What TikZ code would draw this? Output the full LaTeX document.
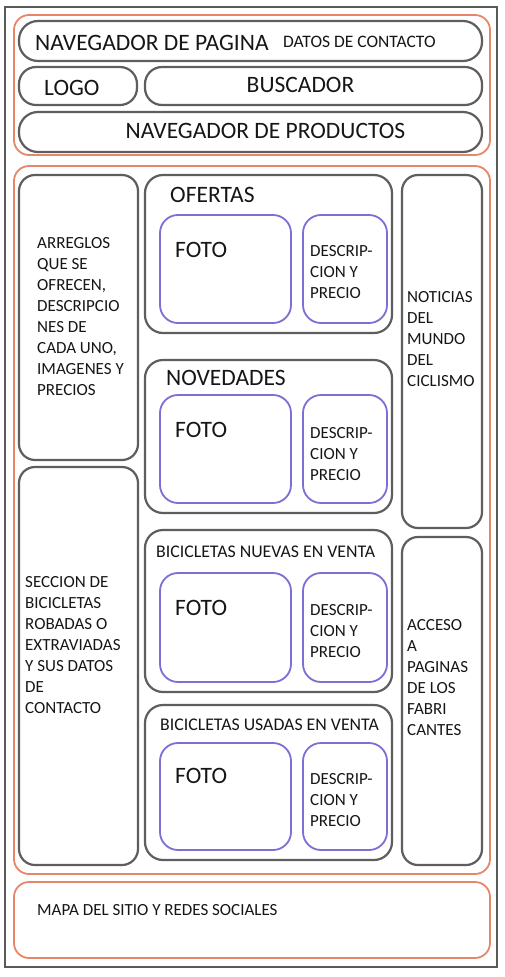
\documentclass[tikz,border=0pt]{standalone}
\usepackage{fontspec}
\setmainfont{Carlito}
\definecolor{frameg}{HTML}{5A5A5A}
\definecolor{boxg}{HTML}{5E5E5E}
\definecolor{orng}{HTML}{E8866A}
\definecolor{blu}{HTML}{7A70D6}
\definecolor{txt}{HTML}{161616}
\newcommand\bx[7]{\node[#1, rounded corners=#7, minimum width={(#5-#3)*1pt}, minimum height={(#6-#4)*1pt}] (#2) at ({(#3+#5)/2},{(#4+#6)/2}) {};}
\tikzset{
  x=1pt, y=-1pt,
  frm/.style={draw=frameg, line width=1.6pt, inner sep=0pt, outer sep=0pt, fill=white},
  obox/.style={draw=orng, line width=1.8pt, inner sep=0pt, outer sep=0pt},
  gbox/.style={draw=boxg, line width=2.2pt, inner sep=0pt, outer sep=0pt},
  bbox/.style={draw=blu, line width=1.8pt, inner sep=0pt, outer sep=0pt},
  big/.style={inner sep=0pt, text=txt, font=\fontsize{23.5}{27}\selectfont},
  mid/.style={inner sep=0pt, text=txt, font=\fontsize{17.8}{21}\selectfont},
  body/.style={inner sep=0pt, text=txt, align=left, font=\fontsize{17}{21}\selectfont},
}
\begin{document}
\begin{tikzpicture}
\useasboundingbox (0,0) rectangle (505,977);
\fill[white] (0,0) rectangle (505,977);
% frame
\bx{frm}{frame}{5}{7}{497}{967}{0pt}
% header
\bx{obox}{hdr}{14}{15}{490}{155}{15pt}
\bx{gbox}{nav}{19}{21}{482}{61}{19pt}
\bx{gbox}{logo}{19}{67}{137}{105}{17pt}
\bx{gbox}{busc}{145}{67}{482}{105}{17pt}
\bx{gbox}{prod}{19}{112}{482}{152}{19pt}
\node[big, anchor=base west] (navt) at (35,50) {NAVEGADOR DE PAGINA};
\node[inner sep=0pt, text=txt, font=\fontsize{17.5}{20}\selectfont, anchor=base west] (datt) at (283,47) {DATOS DE CONTACTO};
\node[big, anchor=base west] (logot) at (44,95) {LOGO};
\node[big, anchor=base] (busct) at (300.5,92) {BUSCADOR};
\node[big, anchor=base] (prodt) at (265.5,138) {NAVEGADOR DE PRODUCTOS};
% main area
\bx{obox}{main}{14}{166}{490}{874}{15pt}
\bx{gbox}{left1}{19}{175}{138}{460}{16pt}
\bx{gbox}{left2}{19}{467}{138}{865}{16pt}
\bx{gbox}{ofer}{145}{175}{392}{333}{18pt}
\bx{gbox}{nove}{145}{360}{392}{513}{18pt}
\bx{gbox}{nuev}{145}{530}{392}{692}{18pt}
\bx{gbox}{usad}{145}{705}{392}{860}{18pt}
\bx{gbox}{noti}{402}{175}{482}{528}{16pt}
\bx{gbox}{acce}{402}{537}{482}{865}{16pt}
% blue boxes
\bx{bbox}{f1}{160}{215}{291}{323}{18pt}
\bx{bbox}{d1}{303}{215}{387}{323}{18pt}
\bx{bbox}{f2}{160}{395}{291}{503}{18pt}
\bx{bbox}{d2}{303}{395}{387}{503}{18pt}
\bx{bbox}{f3}{160}{573}{291}{682}{18pt}
\bx{bbox}{d3}{303}{573}{387}{682}{18pt}
\bx{bbox}{f4}{160}{743}{291}{850}{18pt}
\bx{bbox}{d4}{303}{743}{387}{850}{18pt}
% titles
\node[big, anchor=base west] (ofert) at (170,202) {OFERTAS};
\node[big, anchor=base west] (novet) at (166,385) {NOVEDADES};
\node[mid, anchor=base west] (nuevt) at (156,557) {BICICLETAS NUEVAS EN VENTA};
\node[mid, anchor=base west] (usadt) at (160,730) {BICICLETAS USADAS EN VENTA};
% foto
\node[big, anchor=base west] (ft1) at (175,257) {FOTO};
\node[big, anchor=base west] (ft2) at (175,437) {FOTO};
\node[big, anchor=base west] (ft3) at (175,615) {FOTO};
\node[big, anchor=base west] (ft4) at (175,783) {FOTO};
% descriptions (base = last line)
\node[body, anchor=base west] (dt1) at (310,298) {DESCRIP-\\CION Y\\PRECIO};
\node[body, anchor=base west] (dt2) at (310,480) {DESCRIP-\\CION Y\\PRECIO};
\node[body, anchor=base west] (dt3) at (310,657) {DESCRIP-\\CION Y\\PRECIO};
\node[body, anchor=base west] (dt4) at (310,826) {DESCRIP-\\CION Y\\PRECIO};
% side texts
\node[body, anchor=base west] (l1t) at (37,395) {ARREGLOS\\QUE SE\\OFRECEN,\\DESCRIPCIO\\NES DE\\CADA UNO,\\IMAGENES Y\\PRECIOS};
\node[body, anchor=base west] (l2t) at (25,713) {SECCION DE\\BICICLETAS\\ROBADAS O\\EXTRAVIADAS\\Y SUS DATOS\\DE\\CONTACTO};
\node[body, anchor=base west] (nott) at (407,386) {NOTICIAS\\DEL\\MUNDO\\DEL\\CICLISMO};
\node[body, anchor=base west] (acct) at (407,735) {ACCESO\\A\\PAGINAS\\DE LOS\\FABRI\\CANTES};
% footer
\bx{obox}{foot}{14}{882}{490}{958}{15pt}
\node[body, anchor=base west] (footT) at (37,915) {MAPA DEL SITIO Y REDES SOCIALES};
\end{tikzpicture}
\end{document}
